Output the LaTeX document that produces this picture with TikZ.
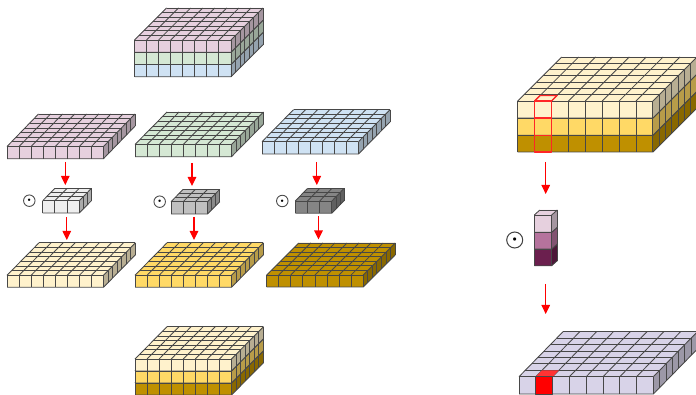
\documentclass[tikz,border=0pt]{standalone}
\usepackage{amsmath,amssymb}
\usepackage{tikz}
\usepackage{xcolor}
\usetikzlibrary{arrows.meta}

\definecolor{pinkc}{HTML}{E6D0DE}
\definecolor{greenc}{HTML}{D5E8D4}
\definecolor{bluec}{HTML}{CFE2F3}
\definecolor{creamc}{HTML}{FFF2CC}
\definecolor{yellowc}{HTML}{FFD966}
\definecolor{goldc}{HTML}{BF9000}
\definecolor{greyA}{HTML}{EEEEEE}
\definecolor{greyB}{HTML}{C0C0C0}
\definecolor{greyC}{HTML}{858585}
\definecolor{plumA}{HTML}{E6D0DE}
\definecolor{plumB}{HTML}{B5739D}
\definecolor{plumC}{HTML}{6B1F4E}
\definecolor{lavc}{HTML}{D8D3E8}

% #1,#2 front top left corner, #3 cell width, #4 height, #5,#6 depth offset, #7 columns, #8 rows, #9 colour
\newcommand{\cubelayer}[9]{%
  \fill[#9] (#1,#2) -- ++(#3*#7,0) -- ++(#5,-#6) -- ++(-#3*#7,0) -- cycle;
  \fill[#9] (#1,#2) rectangle ++(#3*#7,#4);
  \fill[#9!72!black] (#1+#3*#7,#2) -- ++(#5,-#6) -- ++(0,#4) -- ++(-#5,#6) -- cycle;
  \foreach \k in {0,...,#7} {
    \draw[grid] ({#1+\k*#3},#2) -- ++(#5,-#6);
    \draw[grid] ({#1+\k*#3},#2) -- ++(0,#4);
  }
  \foreach \k in {0,...,#8} {
    \draw[grid] ({#1+\k*#5/#8},{#2-\k*#6/#8}) -- ++(#3*#7,0);
    \draw[grid] ({#1+#3*#7+\k*#5/#8},{#2-\k*#6/#8}) -- ++(0,#4);
  }
  \draw[grid] (#1,#2+#4) -- ++(#3*#7,0) -- ++(#5,-#6);
}

\begin{document}
\begin{tikzpicture}[
    x=1pt, y=-1pt,
    grid/.style={draw=black!72, line width=0.85pt, line join=round},
    odot/.style={circle, draw=black!70, line width=0.9pt, inner sep=0pt, minimum size=11.5pt, font=\fontsize{5.5}{5.5}\selectfont},
    bigodot/.style={circle, draw=black!75, line width=1pt, inner sep=0pt, minimum size=16pt, font=\fontsize{8}{8}\selectfont},
    arrow/.style={-{Triangle[length=9pt,width=8.5pt]}, red, line width=1.2pt},
    redbox/.style={draw=red!85, line width=1.4pt, line join=round},
]
\useasboundingbox (0,0) rectangle (696,395);
\clip (0,0) rectangle (696,395);

% input stack
\cubelayer{134.5}{64.5}{12.06}{12.3}{32}{32}{8}{7}{bluec}
\cubelayer{134.5}{52.3}{12.06}{12.2}{32}{32}{8}{7}{greenc}
\cubelayer{134.5}{40}{12.06}{12.3}{32}{32}{8}{7}{pinkc}

% separate slabs
\cubelayer{7}{146.5}{12.06}{12.2}{31.5}{32.5}{8}{7}{pinkc}
\cubelayer{135}{144.5}{12.06}{12.2}{32}{32.5}{8}{7}{greenc}
\cubelayer{262}{141.7}{12.06}{12.3}{31.5}{32}{8}{7}{bluec}

% kernels
\cubelayer{42.7}{200.7}{12.2}{12.3}{12.2}{12.4}{3}{3}{greyA}
\cubelayer{171}{201.7}{12.2}{12.3}{12.2}{12.4}{3}{3}{greyB}
\cubelayer{295.3}{201}{12.2}{12.2}{12.2}{12.6}{3}{3}{greyC}

\node[odot] (dotA) at (29.3,200.7) {$\bullet$};
\node[odot] (dotB) at (159.7,201.7) {$\bullet$};
\node[odot] (dotC) at (282.3,201) {$\bullet$};

% output slabs
\cubelayer{7}{275.3}{12.06}{12}{32}{32.5}{8}{7}{creamc}
\cubelayer{135}{275.3}{12.06}{12}{32}{32.5}{8}{7}{yellowc}
\cubelayer{266.7}{275}{12.06}{12}{32}{32}{8}{7}{goldc}

% output stack
\cubelayer{135}{383}{12.06}{12}{32}{32.3}{8}{7}{goldc}
\cubelayer{135}{371}{12.06}{12}{32}{32.3}{8}{7}{yellowc}
\cubelayer{135}{359}{12.06}{12}{32}{32.3}{8}{7}{creamc}

% right side, big stack
\cubelayer{517.7}{135.3}{16.9}{16.7}{44}{44}{8}{7}{goldc}
\cubelayer{517.7}{118}{16.9}{17.3}{44}{44}{8}{7}{yellowc}
\cubelayer{517.7}{101}{16.9}{17}{44}{44}{8}{7}{creamc}
\draw[redbox] (534.6,101) rectangle (551.5,118);
\draw[redbox] (534.6,118) rectangle (551.5,135.3);
\draw[redbox] (534.6,135.3) rectangle (551.5,152);
\draw[redbox] (534.6,101) -- ++(5.5,-5.5) -- ++(16.9,0) -- (551.5,101);

% right side, tall kernel
\cubelayer{534.3}{249}{17.4}{16.7}{5.6}{5}{1}{1}{plumC}
\cubelayer{534.3}{232.3}{17.4}{16.7}{5.6}{5}{1}{1}{plumB}
\cubelayer{534.3}{215}{17.4}{17.3}{5.6}{5}{1}{1}{plumA}
\node[bigodot] (dotD) at (514.7,240) {$\bullet$};

% right side, result
\cubelayer{519}{376.7}{16.8}{17.3}{44}{45}{8}{7}{lavc}
\fill[red] (535.8,376.7) rectangle (552.6,394);
\fill[red!80!white] (535.8,376.7) -- ++(6.3,-6.4) -- ++(16.8,0) -- (552.6,376.7) -- cycle;
\draw[grid] (535.8,376.7) rectangle (552.6,394);

% arrows
\coordinate (pinkEnd) at (65.3,162);
\coordinate (kernelA) at (65.3,185);
\coordinate (greenEnd) at (192,163);
\coordinate (kernelB) at (192,186);
\coordinate (blueEnd) at (316.8,162);
\coordinate (kernelC) at (316.8,185);
\coordinate (kernelAout) at (66.8,217);
\coordinate (creamEnd) at (66.8,240);
\coordinate (kernelBout) at (194,217);
\coordinate (yellowEnd) at (194,240);
\coordinate (kernelCout) at (318.5,216.5);
\coordinate (goldEnd) at (318.5,239.5);
\coordinate (stackEnd) at (545.7,162);
\coordinate (kernelD) at (545.7,194);
\coordinate (kernelDout) at (545.7,284);
\coordinate (resultEnd) at (545.7,314);

\draw[arrow] (pinkEnd) -- (kernelA);
\draw[arrow] (greenEnd) -- (kernelB);
\draw[arrow] (blueEnd) -- (kernelC);
\draw[arrow] (kernelAout) -- (creamEnd);
\draw[arrow] (kernelBout) -- (yellowEnd);
\draw[arrow] (kernelCout) -- (goldEnd);
\draw[arrow] (stackEnd) -- (kernelD);
\draw[arrow] (kernelDout) -- (resultEnd);

\end{tikzpicture}
\end{document}
